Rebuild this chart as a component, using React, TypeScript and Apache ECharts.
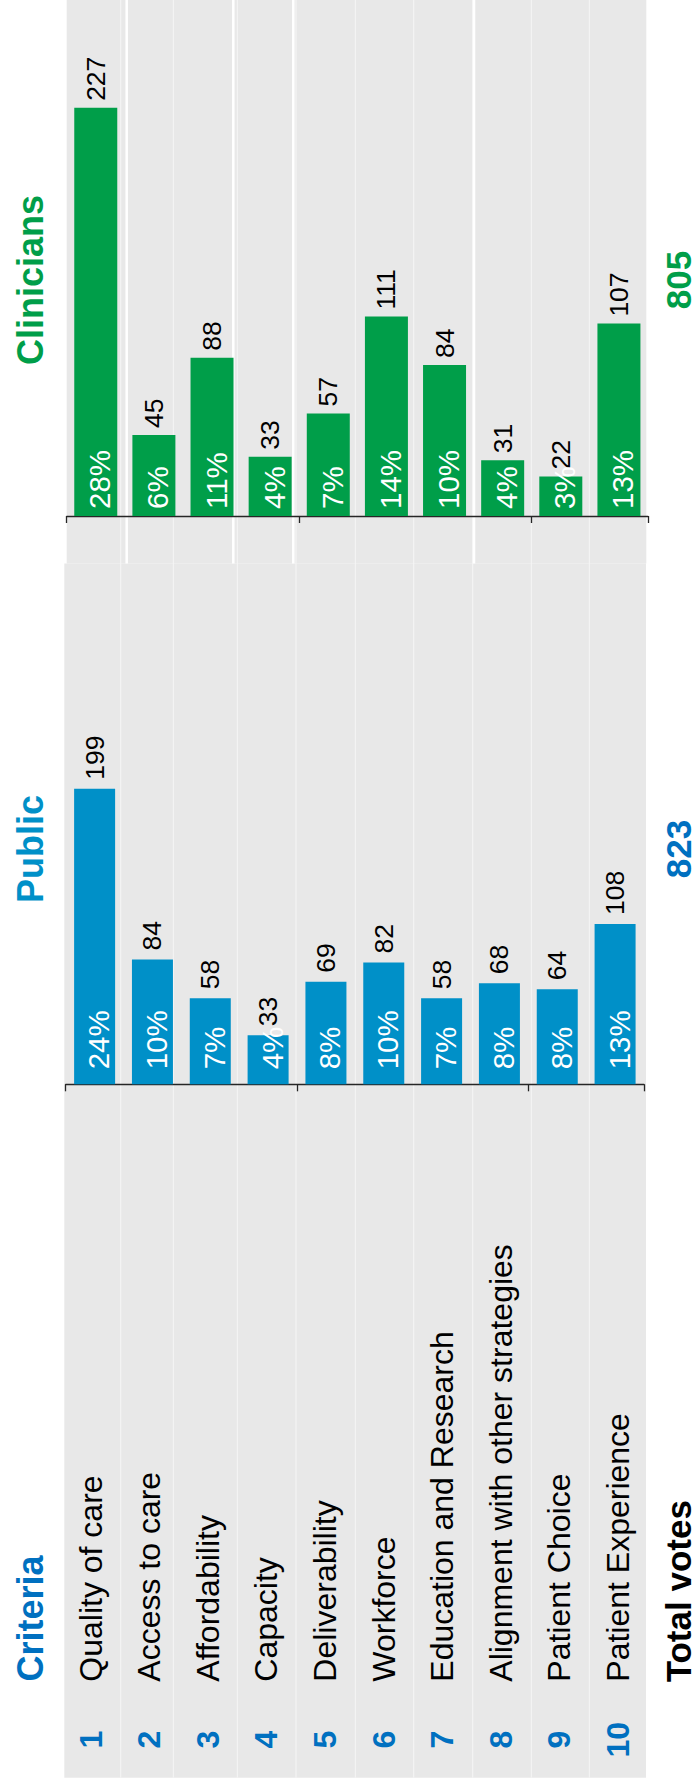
import React, { useEffect, useRef } from "react";
import * as echarts from "echarts";

// ---------- data ----------
const criteria = [
  "Quality of care",
  "Access to care",
  "Affordability",
  "Capacity",
  "Deliverability",
  "Workforce",
  "Education and Research",
  "Alignment with other strategies",
  "Patient Choice",
  "Patient Experience",
];
const criteriaNumbers = ["1", "2", "3", "4", "5", "6", "7", "8", "9", "10"];

const publicVotes = [199, 84, 58, 33, 69, 82, 58, 68, 64, 108];
const publicPct = ["24%", "10%", "7%", "4%", "8%", "10%", "7%", "8%", "8%", "13%"];
const publicTotal = "823";

const clinicianVotes = [227, 45, 88, 33, 57, 111, 84, 31, 22, 107];
const clinicianPct = ["28%", "6%", "11%", "4%", "7%", "14%", "10%", "4%", "3%", "13%"];
const clinicianTotal = "805";

const titleClinicians = "Clinicians";
const titlePublic = "Public";
const titleCriteria = "Criteria";
const titleTotal = "Total votes";

// ---------- styles ----------
const GREEN = "#009E49";
const BLUE = "#0090C8";
const DEEP_BLUE = "#0070C0";
const GRAY = "#E8E8E8";
const NARROW = "'Liberation Sans Narrow', 'Arial Narrow', 'Liberation Sans', Arial, sans-serif";
const ARIAL = "'Liberation Sans', Arial, Helvetica, sans-serif";

export default function App() {
  const ref = useRef<HTMLDivElement>(null);

  useEffect(() => {
    if (!ref.current) return;
    const chart = echarts.init(ref.current, null, { renderer: "svg" });

    const thin = [120.7, 173.3, 237.3, 296, 355.3, 413.7, 472.7, 531.3, 589.3];
    const thick = [126.7, 233.3, 293.3, 474];

    const graphic: any[] = [
      { type: "rect", z: -10, silent: true, shape: { x: 66.7, y: 0, width: 579.6, height: 563.5 }, style: { fill: GRAY } },
      { type: "rect", z: -10, silent: true, shape: { x: 64.3, y: 563.5, width: 581.7, height: 1214.2 }, style: { fill: GRAY } },
      ...thin.map((x) => ({
        type: "line", z: -9, silent: true,
        shape: { x1: x, y1: 0, x2: x, y2: 1777.7 },
        style: { stroke: "#F6F6F6", lineWidth: 1 },
      })),
      ...thick.map((x) => ({
        type: "line", z: -9, silent: true,
        shape: { x1: x, y1: 0, x2: x, y2: 563.5 },
        style: { stroke: "#FFFFFF", lineWidth: 2.5 },
      })),
      {
        type: "text", z: 10, x: 30.5, y: 280, rotation: Math.PI / 2,
        style: { text: titleClinicians, fill: GREEN, fontSize: 36, fontWeight: "bold", fontFamily: ARIAL, align: "center", verticalAlign: "middle" },
      },
      {
        type: "text", z: 10, x: 678, y: 280, rotation: Math.PI / 2,
        style: { text: clinicianTotal, fill: GREEN, fontSize: 35, fontWeight: "bold", fontFamily: ARIAL, align: "center", verticalAlign: "middle" },
      },
      {
        type: "text", z: 10, x: 30.5, y: 849, rotation: Math.PI / 2,
        style: { text: titlePublic, fill: BLUE, fontSize: 36, fontWeight: "bold", fontFamily: ARIAL, align: "center", verticalAlign: "middle" },
      },
      {
        type: "text", z: 10, x: 678, y: 849, rotation: Math.PI / 2,
        style: { text: publicTotal, fill: DEEP_BLUE, fontSize: 35, fontWeight: "bold", fontFamily: ARIAL, align: "center", verticalAlign: "middle" },
      },
      {
        type: "text", z: 10, x: 30.5, y: 1681.5, rotation: Math.PI / 2,
        style: { text: titleCriteria, fill: DEEP_BLUE, fontSize: 36, fontWeight: "bold", fontFamily: ARIAL, align: "left", verticalAlign: "middle" },
      },
      {
        type: "text", z: 10, x: 678, y: 1682.3, rotation: Math.PI / 2,
        style: { text: titleTotal, fill: "#000", fontSize: 35, fontWeight: "bold", fontFamily: ARIAL, align: "left", verticalAlign: "middle" },
      },
    ];

    const barAxis = (gridIndex: number) => ({
      gridIndex,
      type: "category",
      data: criteria,
      axisLine: { show: true, lineStyle: { color: "#262626", width: 1.3 } },
      axisTick: { show: true, length: 7, lineStyle: { color: "#262626", width: 1.3 } },
      axisLabel: { show: false },
      splitLine: { show: false },
    });

    const valueLabel = (dist: number) => ({
      show: true,
      position: "top",
      distance: dist,
      rotate: 90,
      align: "left",
      verticalAlign: "middle",
      fontSize: 26.5,
      fontFamily: NARROW,
      color: "#000",
    });

    const pctLabel = (dist: number, pct: string[]) => ({
      show: true,
      position: "insideBottom",
      distance: dist,
      rotate: 90,
      align: "left",
      verticalAlign: "middle",
      offset: [0, 4],
      fontSize: 29.5,
      fontFamily: NARROW,
      color: "#FFFFFF",
      formatter: (p: any) => pct[p.dataIndex],
    });

    const option: any = {
      animation: false,
      backgroundColor: "#FFFFFF",
      graphic,
      grid: [
        { left: 66.7, width: 581.3, top: 0, height: 516, containLabel: false },
        { left: 65.7, width: 578.3, top: 564.5, height: 519.8, containLabel: false },
        { left: 61.2, width: 586.1, top: 1100, height: 677.7, containLabel: false },
      ],
      xAxis: [
        barAxis(0),
        barAxis(1),
        {
          gridIndex: 2,
          type: "category",
          position: "bottom",
          data: criteria,
          axisLine: { show: false },
          axisTick: { show: false },
          splitLine: { show: false },
          axisLabel: {
            inside: true, rotate: 90, margin: 96, interval: 0,
            fontSize: 32, fontFamily: ARIAL, color: "#000",
          },
        },
        {
          gridIndex: 2,
          type: "category",
          position: "bottom",
          data: criteriaNumbers,
          axisLine: { show: false },
          axisTick: { show: false },
          splitLine: { show: false },
          axisLabel: {
            inside: true, rotate: 90, margin: 38, interval: 0, align: "center",
            fontSize: 32, fontWeight: "bold", fontFamily: ARIAL, color: DEEP_BLUE,
          },
        },
      ],
      yAxis: [
        { gridIndex: 0, type: "value", min: 0, max: 287, show: false, splitLine: { show: false } },
        { gridIndex: 1, type: "value", min: 0, max: 350, show: false, splitLine: { show: false } },
        { gridIndex: 2, type: "value", min: 0, max: 1, show: false, splitLine: { show: false } },
      ],
      series: [
        {
          type: "bar", xAxisIndex: 0, yAxisIndex: 0, data: clinicianVotes,
          barWidth: 43, barGap: "-100%", itemStyle: { color: GREEN },
          label: valueLabel(7),
        },
        {
          type: "bar", xAxisIndex: 0, yAxisIndex: 0, data: clinicianVotes,
          barWidth: 43, barGap: "-100%", itemStyle: { color: "rgba(0,0,0,0)" },
          label: pctLabel(7, clinicianPct),
        },
        {
          type: "bar", xAxisIndex: 1, yAxisIndex: 1, data: publicVotes,
          barWidth: 41, barGap: "-100%", itemStyle: { color: BLUE },
          label: valueLabel(9),
        },
        {
          type: "bar", xAxisIndex: 1, yAxisIndex: 1, data: publicVotes,
          barWidth: 41, barGap: "-100%", itemStyle: { color: "rgba(0,0,0,0)" },
          label: pctLabel(15, publicPct),
        },
      ],
    };

    chart.setOption(option);
    return () => chart.dispose();
  }, []);

  return (
    <div
      ref={ref}
      style={{ position: "absolute", left: 0, top: 0, width: 696, height: 1785 }}
    />
  );
}
